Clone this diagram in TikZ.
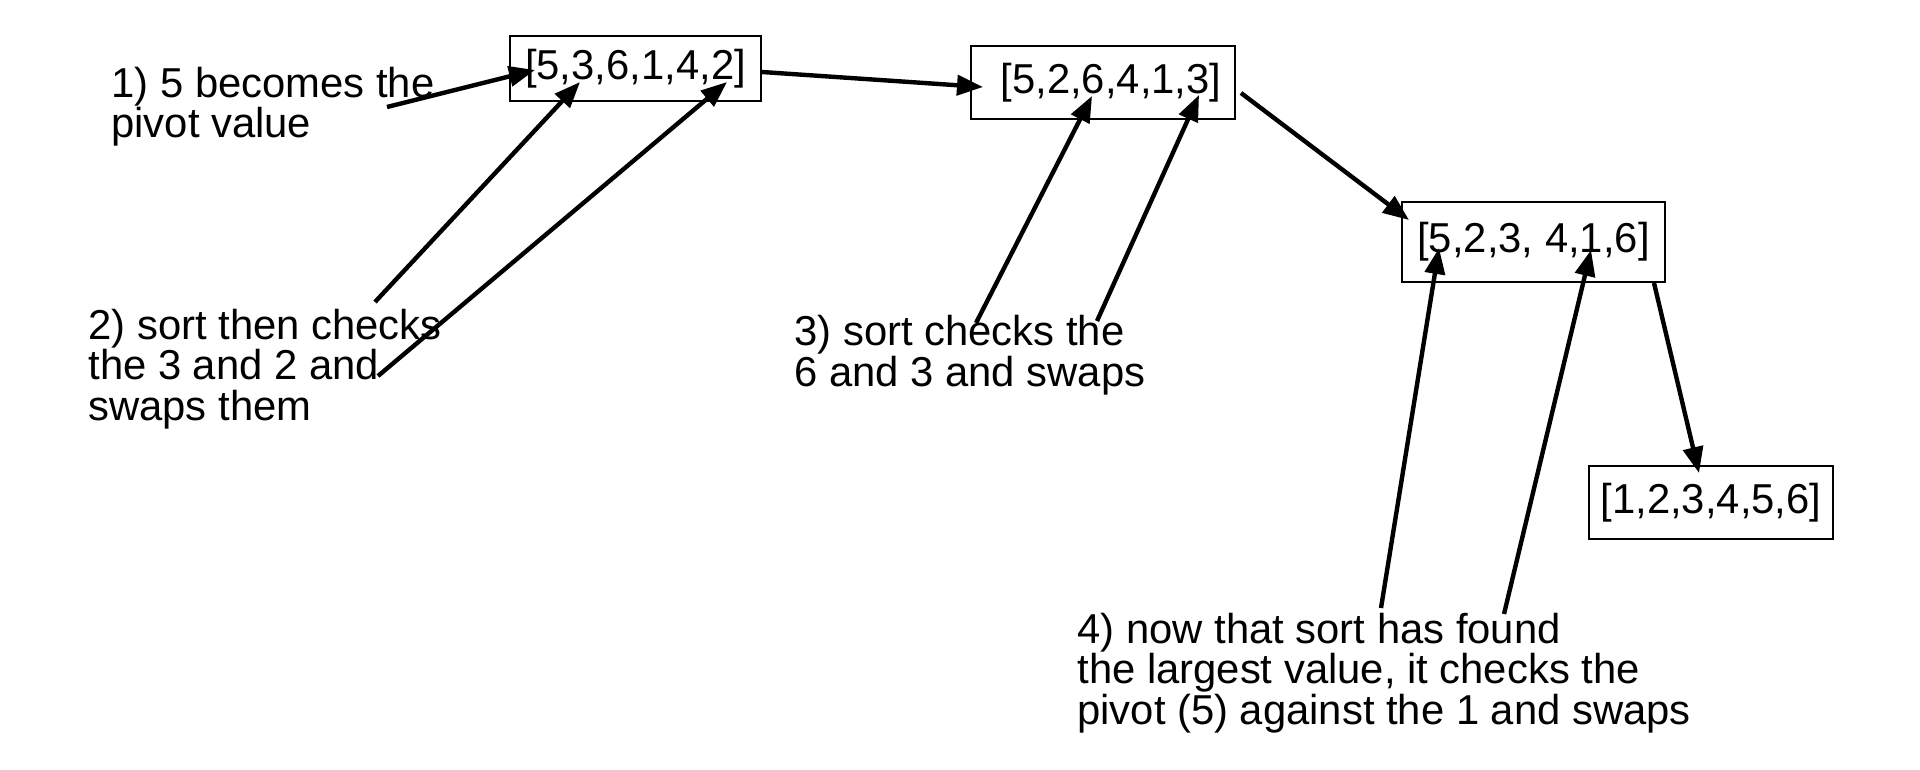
\documentclass[tikz,border=0pt]{standalone}
\usepackage{fontspec}
\setmainfont{Liberation Sans}
\usetikzlibrary{arrows.meta,calc}
\begin{document}
\begin{tikzpicture}[x=0.5pt,y=-0.5pt,
  every node/.style={font=\fontsize{20.9}{20.25}\selectfont},
  listbox/.style={draw, line width=1pt, inner sep=0pt, anchor=center},
  note/.style={align=left, inner sep=0pt, anchor=base west},
  arr/.style={line width=2.2pt, -{Triangle[length=13pt,width=10pt]}}]
\useasboundingbox[fill=white] (0,0) rectangle (1920,770);

% list boxes
\node[listbox, minimum width=125.5pt, minimum height=32.5pt] (b1) at (635.5,69) {[5,3,6,1,4,2]};
\node[listbox, minimum width=132pt, minimum height=36.5pt] (b2) at (1103,82.5) {\hspace*{8pt}[5,2,6,4,1,3]};
\node[listbox, minimum width=131.5pt, minimum height=39.5pt] (b3) at (1533.5,242) {[5,2,3, 4,1,6]};
\node[listbox, minimum width=122pt, minimum height=36.5pt] (b4) at (1711,502.5) {[1,2,3,4,5,6]};

% notes (anchor = baseline of the last line)
\node[note, font=\fontsize{20.9}{19}\selectfont] (n1) at (111,138) {1) 5 becomes the\\pivot value};
\node[note] (n2) at (88,420) {2) sort then checks\\the 3 and 2 and\\swaps them};
\node[note] (n3) at (794,386) {3) sort checks the\\6 and 3 and swaps};
\node[note] (n4) at (1077,724) {4) now that sort has found\\the largest value, it checks the\\pivot (5) against the 1 and swaps};

% arrow ends
\coordinate (s1) at (387,107);
\coordinate (e1) at (535,70);
\coordinate (s2a) at (375,302);
\coordinate (e2a) at (580,82);
\coordinate (s2b) at (378,376);
\coordinate (e2b) at (727,82);
\coordinate (s3a) at (976,323);
\coordinate (e3a) at (1092,96);
\coordinate (s3b) at (1097,321);
\coordinate (e3b) at (1199,95);
\coordinate (s4a) at (1381,608);
\coordinate (e4a) at (1439,248);
\coordinate (s4b) at (1504,614);
\coordinate (e4b) at (1591,250);

\draw[arr] (s1) -- (e1);
\draw[arr] (s2a) -- (e2a);
\draw[arr] (s2b) -- (e2b);
\draw[arr] (s3a) -- (e3a);
\draw[arr] (s3b) -- (e3b);
\draw[arr] (s4a) -- (e4a);
\draw[arr] (s4b) -- (e4b);

% box to box
\draw[arr] ($(b1.east)+(0,3)$) -- ($(b2.west)+(13,4.5)$);
\draw[arr] ($(b2.east)+(5,10.5)$) -- ($(b3.north west)+(8,18.5)$);
\draw[arr] ($(b3.south east)+(-12,0.5)$) -- ($(b4.north)+(-12,8)$);
\end{tikzpicture}
\end{document}
